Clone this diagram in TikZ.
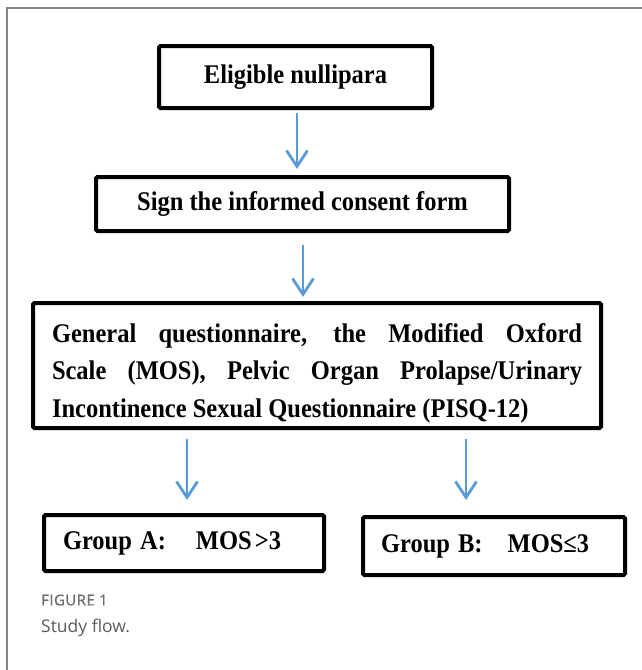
\documentclass[tikz,border=0pt]{standalone}
\usepackage{fontspec}
\setmainfont{Liberation Serif}
\newfontfamily\capfont{Open Sans}
\newfontfamily\figfont[LetterSpace=3,FakeBold=1.2]{Open Sans}
\usetikzlibrary{arrows.meta,calc}
\definecolor{arrblue}{HTML}{5B9BD5}
\definecolor{framegray}{HTML}{848484}
\definecolor{capgray}{HTML}{6E6E6E}
\definecolor{captext}{HTML}{5A5A5A}
\newcommand{\tallt}[1]{\scalebox{1}[1.1]{#1}}
\begin{document}
\begin{tikzpicture}[x=1pt,y=-1pt,
  box/.style={draw=black, line width=4pt, rounded corners=1.5pt,
    font=\fontsize{24.5}{37.5}\selectfont\bfseries, inner sep=0pt},
  arr/.style={draw=arrblue, line width=2.8pt, -{Straight Barb[length=16pt,width=21pt]}},
  captxt/.style={anchor=west, inner sep=0pt}
]
\useasboundingbox (0,0) rectangle (642,670);
\draw[framegray, line width=2pt] (7,670) -- (7,8) -- (642,8);

\node[box, minimum width=273pt, minimum height=62pt] (b1) at (295.5,77) {\tallt{Eligible nullipara}};
\node[box, minimum width=413pt, minimum height=54pt] (b2) at (302.5,204) {\tallt{Sign the informed consent form}};
\node[box, minimum width=568pt, minimum height=125pt, align=left] (b3) at (317,365.5)
  {\rule{0pt}{34pt}\tallt{\makebox[530pt][s]{General questionnaire, the Modified Oxford}}\\
   \tallt{\makebox[530pt][s]{Scale (MOS), Pelvic Organ Prolapse/Urinary}}\\
   \tallt{Incontinence Sexual Questionnaire (PISQ-12)}};
\node[box, minimum height=56pt, inner xsep=19pt, text width=242pt, align=left] (b4) at (184,543)
  {\tallt{Group A:\hspace{30pt}MOS\hspace{3pt}>3}};
\node[box, minimum height=58pt, inner xsep=18pt, text width=226pt, align=left] (b5) at (494,546)
  {\tallt{Group B:\hspace{25pt}MOS≤3}};

\coordinate (x1) at (297,0);
\coordinate (x2) at (303,0);
\coordinate (x3) at (187,0);
\coordinate (x4) at (466,0);
\draw[arr, shorten <=3pt, shorten >=6pt] (b1.south -| x1) -- (b2.north -| x1);
\draw[arr, shorten <=12pt, shorten >=4pt] (b2.south -| x2) -- (b3.north -| x2);
\draw[arr, shorten <=9pt, shorten >=13pt] (b3.south -| x3) -- (b4.north -| x3);
\draw[arr, shorten <=9pt, shorten >=15pt] (b3.south -| x4) -- (b5.north -| x4);

\node[captxt, font=\figfont\fontsize{15}{18}\selectfont, text=capgray] (fig) at (41,600) {FIGURE 1};
\node[captxt, font=\capfont\fontsize{17.5}{21}\selectfont, text=captext] (cp) at (41,628) {Study flow.};
\end{tikzpicture}
\end{document}
